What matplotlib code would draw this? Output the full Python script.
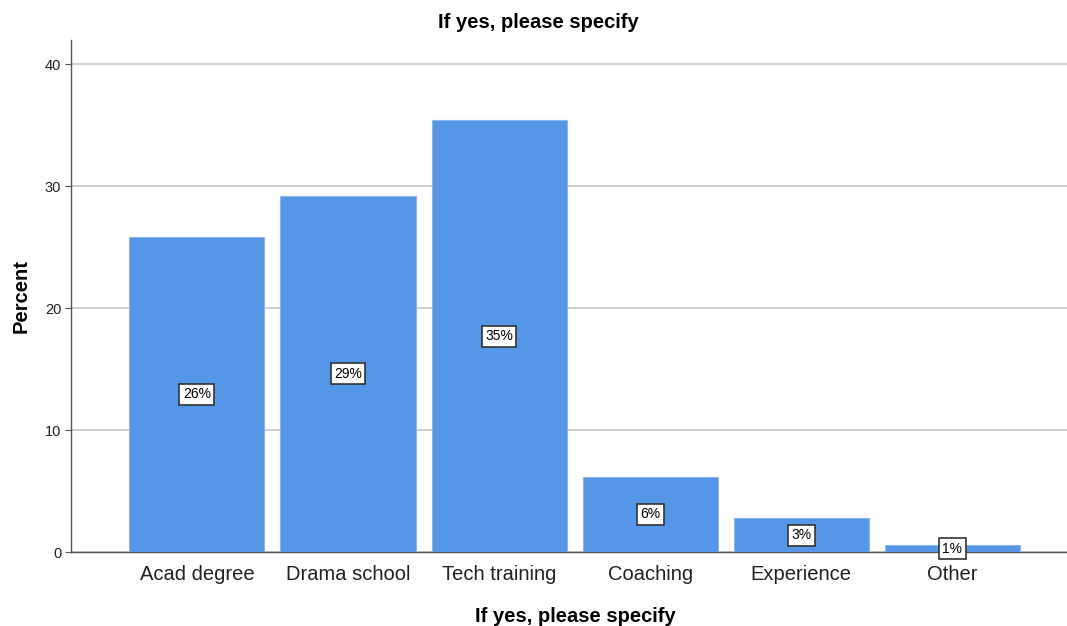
import matplotlib.pyplot as plt

categories = ['Acad degree', 'Drama school', 'Tech training', 'Coaching', 'Experience', 'Other']
percent = [25.87, 29.24, 35.40, 6.18, 2.76, 0.57]
yticks = [0, 10, 20, 30, 40]

plt.rcParams['font.family'] = ['Liberation Sans', 'DejaVu Sans']

fig = plt.figure(figsize=(10.67, 6.26), dpi=100)
ax = fig.add_axes([0.0665, 0.1182, 0.9335, 0.818])

x = list(range(len(categories)))
ax.bar(x, percent, width=0.894, color='#5596E6', edgecolor='#8DB8EE', linewidth=0.8, zorder=3)

for xi, v in zip(x, percent):
    ax.text(xi, v / 2, f'{round(v)}%', ha='center', va='center', fontsize=10, zorder=4,
            bbox=dict(boxstyle='square,pad=0.25', facecolor='white', edgecolor='#333333', linewidth=1.2))

ax.set_xlim(-0.834, 5.76)
ax.set_ylim(0, 42)
ax.set_yticks(yticks)
ax.set_xticks(x)
ax.set_xticklabels(categories, fontsize=14.5, color='#222222')
ax.tick_params(axis='x', length=0, pad=9.5)
ax.tick_params(axis='y', length=4, width=0.8, colors='#555555', labelcolor='#222222', labelsize=10.5, pad=3)
ax.yaxis.grid(True, color='#C8C8C8', linewidth=1.2, zorder=0)

for s in ['top', 'right']:
    ax.spines[s].set_visible(False)
for s in ['left', 'bottom']:
    ax.spines[s].set_color('#555555')
    ax.spines[s].set_linewidth(1.0)

# title sits centred on the whole figure
fig.text(0.505, 1 - 23 / 626, 'If yes, please specify', fontsize=14.5, fontweight='bold',
         ha='center', va='center')
ax.set_xlabel('If yes, please specify', fontsize=14.5, fontweight='bold')
ax.xaxis.set_label_coords(0.5063, -0.125)
ax.xaxis.label.set_verticalalignment('center')
ax.set_ylabel('Percent', fontsize=14.5, fontweight='bold', labelpad=10)

plt.savefig('out.png', dpi=100)
